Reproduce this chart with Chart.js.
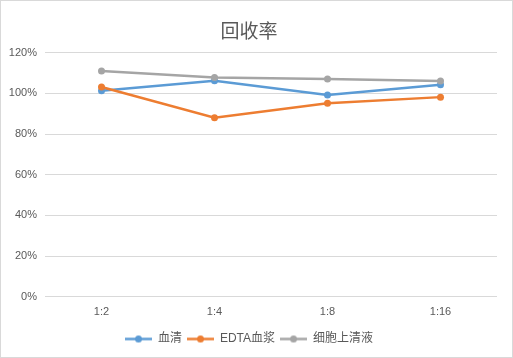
<!DOCTYPE html>
<html><head><meta charset="utf-8">
<script src="https://cdn.jsdelivr.net/npm/chart.js@4/dist/chart.umd.min.js"></script>
<style>
html,body{margin:0;padding:0;background:#fff;}
#wrap{position:absolute;left:0;top:0;width:511px;height:356px;border:1px solid #d9d9d9;}
canvas{display:block;}
</style></head>
<body><div id="wrap"><canvas id="c" width="511" height="356"></canvas></div>
<script>
const categories = ["1:2", "1:4", "1:8", "1:16"];
const serum = [1.013, 1.063, 0.993, 1.043];
const edtaPlasma = [1.032, 0.881, 0.952, 0.982];
const cellSupernatant = [1.111, 1.079, 1.071, 1.061];
const seriesNames = ["血清", "EDTA血浆", "细胞上清液"];
const yTicks = [0, 0.2, 0.4, 0.6, 0.8, 1.0, 1.2];
const colors = ["#5B9BD5", "#ED7D31", "#A5A5A5"];

function legendIcon(color){
  const c = document.createElement('canvas');
  c.width = 27; c.height = 9;
  const g = c.getContext('2d');
  g.strokeStyle = color; g.lineWidth = 2.5;
  g.beginPath(); g.moveTo(0,4.5); g.lineTo(27,4.5); g.stroke();
  g.fillStyle = color; g.beginPath(); g.arc(13.5,4.5,3.5,0,Math.PI*2); g.fill();
  return c;
}
const icons = colors.map(legendIcon);
const font = "'Liberation Sans', 'Noto Sans CJK SC', sans-serif";
const legendFont = "'Liberation Sans Narrow', 'Liberation Sans', 'Noto Sans CJK SC', sans-serif";

const ds = [serum, edtaPlasma, cellSupernatant].map((d,i)=>({
  label: seriesNames[i], data: d, borderColor: colors[i], backgroundColor: colors[i],
  borderWidth: 2.5, pointRadius: 3.5, pointHoverRadius: 3.5, pointBackgroundColor: colors[i],
  pointBorderWidth: 0, tension: 0, order: 3 - i
}));

new Chart(document.getElementById('c'), {
  type: 'line',
  data: { labels: categories, datasets: ds },
  options: {
    responsive: false, animation: false, devicePixelRatio: 1,
    layout: { padding: { left: 0, right: 15, top: 0, bottom: 2 } },
    plugins: {
      title: { display: true, text: '回收率', color: '#595959',
        font: { family: "'Noto Sans CJK SC', sans-serif", size: 19, weight: 'normal' },
        padding: { top: 18, bottom: 11 } },
      legend: { position: 'bottom',
        labels: { color: '#595959', font: { family: legendFont, size: 12 }, usePointStyle: true,
          pointStyleWidth: 27, boxHeight: 9, padding: 5,
          generateLabels(chart){
            return chart.data.datasets.map((d,i)=>({ text: d.label, pointStyle: icons[i],
              fillStyle: colors[i], strokeStyle: colors[i], lineWidth: 0, hidden: false, datasetIndex: i, fontColor: '#595959' }));
          } } },
      tooltip: { enabled: false }
    },
    scales: {
      x: { offset: true, grid: { display: false, drawTicks: false }, border: { display: false },
        ticks: { color: '#595959', font: { family: font, size: 11 }, padding: 9 } },
      y: { min: 0, max: 1.2,
        afterBuildTicks(s){ s.ticks = yTicks.map(v=>({value:v})); },
        afterFit(s){ s.width = 44; },
        grid: { color: '#d9d9d9', drawTicks: false, lineWidth: 1 }, border: { display: false },
        ticks: { color: '#595959', font: { family: font, size: 11 }, padding: 8,
          callback: v => Math.round(v*100) + '%' } }
    }
  }
});
</script></body></html>
